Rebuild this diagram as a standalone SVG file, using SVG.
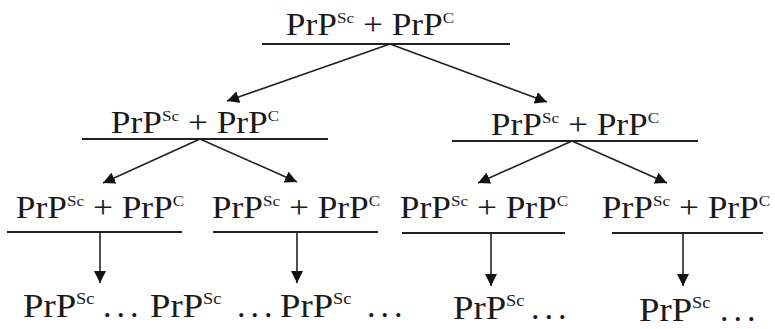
<svg xmlns="http://www.w3.org/2000/svg" width="775" height="329" viewBox="0 0 775 329">
<style>
text{font-family:"Liberation Serif","Times New Roman",serif;font-size:31px;fill:#1a1a1a}
.sup{font-size:15px}
.leaf{font-size:34px}
.leaf .sup{font-size:17px}
.dots{font-size:34px;letter-spacing:5px}
.rule{stroke:#222;stroke-width:1.8;fill:none}
.arr{stroke:#222;stroke-width:1.6;fill:none;marker-end:url(#ah)}
</style>
<defs>
<marker id="ah" viewBox="0 0 10 10" refX="10" refY="5" markerWidth="7.5" markerHeight="7.5" orient="auto" markerUnits="strokeWidth">
<path d="M0,0 L10,5 L0,10 z" fill="#111"/>
</marker>
</defs>
<g id="n0">
<text transform="translate(370,35) scale(1.14,1)" text-anchor="middle">PrP<tspan class="sup" dy="-12">Sc</tspan><tspan dy="12"> + PrP</tspan><tspan class="sup" dy="-12">C</tspan></text>
<line class="rule" x1="262" y1="44" x2="510" y2="44"/>
</g>
<g id="n1">
<text transform="translate(195,133) scale(1.14,1)" text-anchor="middle">PrP<tspan class="sup" dy="-12">Sc</tspan><tspan dy="12"> + PrP</tspan><tspan class="sup" dy="-12">C</tspan></text>
<line class="rule" x1="82" y1="139" x2="328" y2="139"/>
</g>
<g id="n2">
<text transform="translate(575,135) scale(1.14,1)" text-anchor="middle">PrP<tspan class="sup" dy="-12">Sc</tspan><tspan dy="12"> + PrP</tspan><tspan class="sup" dy="-12">C</tspan></text>
<line class="rule" x1="452" y1="141" x2="698" y2="141"/>
</g>
<g id="n3">
<text transform="translate(100,218) scale(1.14,1)" text-anchor="middle">PrP<tspan class="sup" dy="-12">Sc</tspan><tspan dy="12"> + PrP</tspan><tspan class="sup" dy="-12">C</tspan></text>
<line class="rule" x1="7" y1="232" x2="182" y2="232"/>
</g>
<g id="n4">
<text transform="translate(296,218) scale(1.14,1)" text-anchor="middle">PrP<tspan class="sup" dy="-12">Sc</tspan><tspan dy="12"> + PrP</tspan><tspan class="sup" dy="-12">C</tspan></text>
<line class="rule" x1="213" y1="232" x2="378" y2="232"/>
</g>
<g id="n5">
<text transform="translate(484,218) scale(1.14,1)" text-anchor="middle">PrP<tspan class="sup" dy="-12">Sc</tspan><tspan dy="12"> + PrP</tspan><tspan class="sup" dy="-12">C</tspan></text>
<line class="rule" x1="402" y1="233" x2="565" y2="233"/>
</g>
<g id="n6">
<text transform="translate(686,218) scale(1.14,1)" text-anchor="middle">PrP<tspan class="sup" dy="-12">Sc</tspan><tspan dy="12"> + PrP</tspan><tspan class="sup" dy="-12">C</tspan></text>
<line class="rule" x1="612" y1="233" x2="763" y2="233"/>
</g>
<g id="leaves">
<text class="leaf" transform="translate(23,317) scale(1.08,1)">PrP<tspan class="sup" dy="-13">Sc</tspan></text>
<text class="dots" x="103" y="317">...</text>
<text class="leaf" transform="translate(150,317) scale(1.08,1)">PrP<tspan class="sup" dy="-13">Sc</tspan></text>
<text class="dots" x="237" y="317">...</text>
<text class="leaf" transform="translate(280,317) scale(1.08,1)">PrP<tspan class="sup" dy="-13">Sc</tspan></text>
<text class="dots" x="367" y="317">...</text>
<text class="leaf" transform="translate(453,319) scale(1.08,1)">PrP<tspan class="sup" dy="-13">Sc</tspan></text>
<text class="dots" x="531" y="319">...</text>
<text class="leaf" transform="translate(639,321) scale(1.08,1)">PrP<tspan class="sup" dy="-13">Sc</tspan></text>
<text class="dots" x="720" y="321">...</text>
</g>
<g id="connectors">
<line class="arr" x1="390" y1="44" x2="227" y2="101"/>
<line class="arr" x1="390" y1="44" x2="547" y2="102"/>
<line class="arr" x1="200" y1="139" x2="103" y2="183"/>
<line class="arr" x1="200" y1="139" x2="297" y2="182"/>
<line class="arr" x1="572" y1="141" x2="478" y2="183"/>
<line class="arr" x1="572" y1="141" x2="667" y2="183"/>
<line class="arr" x1="100" y1="232" x2="100" y2="283"/>
<line class="arr" x1="297" y1="232" x2="297" y2="283"/>
<line class="arr" x1="491" y1="233" x2="491" y2="286"/>
<line class="arr" x1="683" y1="233" x2="683" y2="286"/>
</g>
</svg>
